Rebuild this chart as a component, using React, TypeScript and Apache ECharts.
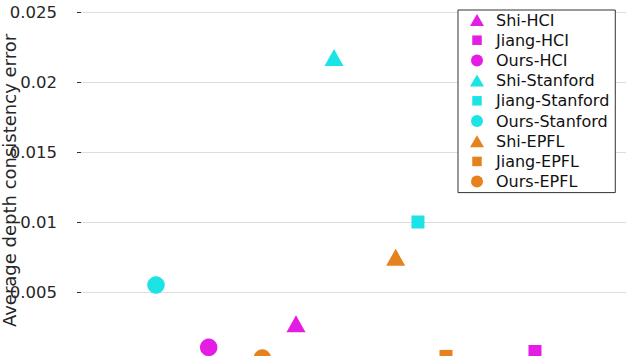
import React, { useEffect, useRef } from "react";
import * as echarts from "echarts";

const seriesNames = [
  "Shi-HCI",
  "Jiang-HCI",
  "Ours-HCI",
  "Shi-Stanford",
  "Jiang-Stanford",
  "Ours-Stanford",
  "Shi-EPFL",
  "Jiang-EPFL",
  "Ours-EPFL",
];
const xValues = [3.945, 8.33, 2.343, 4.642, 6.183, 1.376, 5.774, 6.697, 3.327];
const yValues = [0.00274, 0.00075, 0.00105, 0.02175, 0.01, 0.0055, 0.00748, 0.0004, 0.00028];
const markerShapes = ["triangle", "rect", "circle", "triangle", "rect", "circle", "triangle", "rect", "circle"];
const markerColors = [
  "#e41ce4", "#e41ce4", "#e41ce4",
  "#1ce4e4", "#1ce4e4", "#1ce4e4",
  "#e5821d", "#e5821d", "#e5821d",
];
const yAxisTitle = "Average depth consistency error";

const FONT = "DejaVu Sans";

// legend icons drawn in a 28x14 box (the lone move-to points fix the box)
const legendIconPaths: Record<string, string> = {
  triangle: "path://M0 0M28 14M7 13L21 13L14 1Z",
  rect: "path://M0 0M28 14M9.25 2.25L18.75 2.25L18.75 11.75L9.25 11.75Z",
  circle: "path://M0 0M28 14M8 7A6 6 0 1 0 20 7A6 6 0 1 0 8 7Z",
};

function markerSize(shape: string): number | number[] {
  if (shape === "triangle") return [19, 17];
  if (shape === "rect") return 13;
  return 17.5;
}

export default function App() {
  const ref = useRef<HTMLDivElement>(null);
  useEffect(() => {
    const chart = echarts.init(ref.current!, null, { renderer: "svg" });
    chart.setOption({
      animation: false,
      backgroundColor: "#ffffff",
      grid: {
        left: 81,
        right: 0,
        top: 12,
        height: 350,
        containLabel: false,
        outerBoundsMode: "none",
      },
      xAxis: {
        type: "value",
        min: 0,
        max: 10,
        show: false,
      },
      yAxis: {
        type: "value",
        min: 0,
        max: 0.025,
        interval: 0.005,
        name: yAxisTitle,
        nameLocation: "middle",
        nameGap: 63,
        nameMoveOverlap: false,
        nameTextStyle: {
          fontFamily: FONT,
          fontSize: 18,
          color: "#262626",
          padding: [0, 0, 0, 13],
        },
        axisLine: { show: true, onZero: false, lineStyle: { color: "rgba(0,0,0,0)", width: 1 } },
        axisTick: { show: true, inside: false, length: 4, lineStyle: { color: "#333333", width: 1 } },
        axisLabel: {
          fontFamily: FONT,
          fontSize: 16.5,
          color: "#262626",
          margin: 24,
          showMinLabel: false,
        },
        splitLine: { show: true, lineStyle: { color: "#dddddd", width: 1 } },
      },
      legend: {
        orient: "vertical",
        left: 458,
        top: 10,
        padding: [1, 6, 2, 5],
        itemWidth: 28,
        itemHeight: 14,
        itemGap: 2.2,
        symbolKeepAspect: true,
        backgroundColor: "#ffffff",
        borderColor: "#333333",
        borderWidth: 1,
        borderRadius: 0,
        textStyle: { fontFamily: FONT, fontSize: 16, color: "#111111", lineHeight: 18 },
        data: seriesNames.map((name, i) => ({
          name,
          icon: legendIconPaths[markerShapes[i]],
        })),
      },
      series: seriesNames.map((name, i) => ({
        name,
        type: "scatter",
        symbol: markerShapes[i],
        symbolSize: markerSize(markerShapes[i]),
        itemStyle: { color: markerColors[i], opacity: 1 },
        data: [[xValues[i], yValues[i]]],
      })),
    });
    return () => chart.dispose();
  }, []);
  return (
    <div
      style={{
        position: "fixed",
        left: 0,
        top: 0,
        width: 626,
        height: 356,
        overflow: "hidden",
        background: "#ffffff",
      }}
    >
      <div ref={ref} style={{ width: 626, height: 400 }} />
    </div>
  );
}
